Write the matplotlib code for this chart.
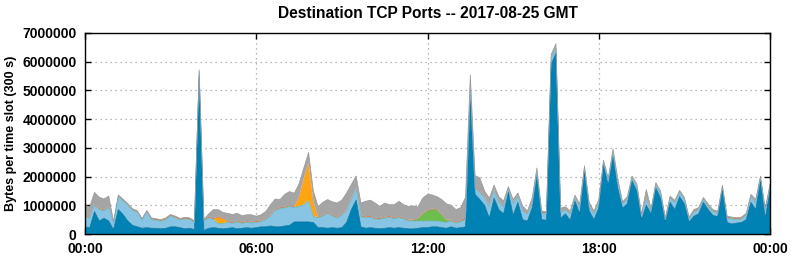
import numpy as np
import matplotlib.pyplot as plt

# 10-minute slots from 00:00 to 24:00, values in MB per slot
# one row per hour
dark = [
    0.25, 0.22, 0.78, 0.45, 0.55, 0.45,
    0.15, 0.85, 0.68, 0.45, 0.30, 0.25,
    0.20, 0.22, 0.20, 0.20, 0.18, 0.20,
    0.25, 0.25, 0.22, 0.18, 0.20, 0.15,
    5.50, 0.12, 0.20, 0.22, 0.20, 0.18,
    0.20, 0.22, 0.18, 0.20, 0.22, 0.20,
    0.22, 0.25, 0.25, 0.28, 0.25, 0.25,
    0.28, 0.30, 0.42, 0.42, 0.42, 0.42,
    0.40, 0.22, 0.22, 0.20, 0.22, 0.20,
    0.22, 0.40, 0.85, 1.18, 0.25, 0.20,
    0.22, 0.20, 0.18, 0.20, 0.22, 0.20,
    0.22, 0.20, 0.18, 0.18, 0.20, 0.22,
    0.22, 0.25, 0.25, 0.22, 0.20, 0.25,
    0.20, 0.22, 0.25, 4.70, 1.38, 1.20,
    1.00, 0.55, 1.25, 0.85, 0.70, 1.45,
    0.65, 1.10, 0.50, 0.45, 0.90, 2.05,
    0.50, 0.48, 5.90, 6.30, 0.55, 0.70,
    0.48, 1.15, 0.70, 2.15, 0.80, 0.50,
    0.90, 2.40, 1.70, 2.70, 1.60, 0.90,
    1.05, 1.85, 1.50, 0.50, 1.00, 0.70,
    1.60, 1.25, 0.40, 1.10, 0.85, 1.30,
    1.05, 0.42, 0.62, 0.70, 1.10, 0.85,
    0.65, 0.60, 1.55, 0.40, 0.35, 0.38,
    0.40, 0.50, 1.10, 0.85, 1.85, 0.55,
    1.50,
]
light = [
    0.37, 0.33, 0.22, 0.40, 0.25, 0.47,
    0.23, 0.45, 0.47, 0.55, 0.52, 0.50,
    0.28, 0.54, 0.30, 0.27, 0.26, 0.30,
    0.37, 0.31, 0.26, 0.34, 0.30, 0.25,
    0.15, 0.33, 0.35, 0.28, 0.15, 0.17,
    0.20, 0.14, 0.24, 0.16, 0.18, 0.18,
    0.18, 0.17, 0.25, 0.34, 0.57, 0.63,
    0.62, 0.65, 0.50, 0.53, 0.58, 0.73,
    0.20, 0.33, 0.40, 0.52, 0.40, 0.35,
    0.43, 0.40, 0.35, 0.40, 0.35, 0.36,
    0.36, 0.32, 0.32, 0.35, 0.36, 0.32,
    0.35, 0.32, 0.27, 0.27, 0.25, 0.23,
    0.23, 0.20, 0.20, 0.20, 0.20, 0.20,
    0.18, 0.20, 0.25, 0.35, 0.22, 0.25,
    0.25, 0.40, 0.25, 0.25, 0.25, 0.10,
    0.40, 0.20, 0.30, 0.25, 0.15, 0.10,
    0.22, 0.22, 0.20, 0.18, 0.20, 0.15,
    0.22, 0.10, 0.20, 0.15, 0.15, 0.20,
    0.15, 0.10, 0.15, 0.15, 0.20, 0.15,
    0.15, 0.10, 0.15, 0.12, 0.20, 0.10,
    0.12, 0.15, 0.10, 0.15, 0.25, 0.15,
    0.15, 0.10, 0.15, 0.15, 0.10, 0.10,
    0.13, 0.12, 0.07, 0.15, 0.17, 0.12,
    0.12, 0.15, 0.20, 0.25, 0.10, 0.25,
    0.15,
]
green = [
    0.03, 0.03, 0.03, 0.03, 0.03, 0.03,
    0.03, 0.03, 0.03, 0.03, 0.03, 0.03,
    0.03, 0.03, 0.03, 0.03, 0.03, 0.03,
    0.03, 0.03, 0.03, 0.03, 0.03, 0.03,
    0.03, 0.03, 0.03, 0.03, 0.03, 0.03,
    0.03, 0.03, 0.03, 0.03, 0.03, 0.03,
    0.03, 0.03, 0.03, 0.03, 0.03, 0.03,
    0.03, 0.03, 0.03, 0.03, 0.03, 0.03,
    0.03, 0.03, 0.03, 0.03, 0.03, 0.03,
    0.03, 0.03, 0.03, 0.03, 0.03, 0.03,
    0.03, 0.03, 0.03, 0.03, 0.03, 0.03,
    0.03, 0.03, 0.03, 0.03, 0.08, 0.25,
    0.35, 0.42, 0.38, 0.25, 0.08, 0.03,
    0.03, 0.03, 0.03, 0.03, 0.03, 0.03,
    0.03, 0.03, 0.03, 0.03, 0.03, 0.03,
    0.03, 0.03, 0.03, 0.03, 0.03, 0.03,
    0.03, 0.03, 0.03, 0.03, 0.03, 0.03,
    0.03, 0.03, 0.03, 0.03, 0.03, 0.03,
    0.03, 0.03, 0.03, 0.03, 0.03, 0.03,
    0.03, 0.03, 0.03, 0.03, 0.03, 0.03,
    0.03, 0.03, 0.03, 0.03, 0.03, 0.03,
    0.03, 0.03, 0.03, 0.03, 0.03, 0.03,
    0.03, 0.03, 0.03, 0.03, 0.03, 0.03,
    0.03, 0.03, 0.03, 0.03, 0.03, 0.03,
    0.03,
]
orange = [
    0, 0, 0, 0, 0, 0,
    0, 0, 0, 0, 0, 0,
    0, 0, 0, 0, 0, 0,
    0, 0, 0, 0, 0, 0,
    0, 0, 0, 0, 0.20, 0.15,
    0, 0, 0, 0, 0, 0,
    0, 0, 0, 0, 0, 0,
    0, 0, 0, 0.30, 0.90, 1.30,
    0.50, 0, 0, 0, 0, 0,
    0, 0, 0, 0, 0, 0,
    0, 0, 0, 0, 0, 0,
    0, 0, 0, 0, 0, 0,
    0, 0, 0, 0, 0, 0,
    0, 0, 0, 0.05, 0, 0,
    0, 0, 0, 0, 0, 0,
    0, 0, 0, 0, 0, 0,
    0, 0, 0, 0, 0, 0,
    0, 0, 0, 0, 0, 0,
    0, 0, 0, 0, 0, 0,
    0, 0, 0, 0, 0, 0,
    0, 0, 0, 0, 0, 0,
    0, 0, 0, 0, 0, 0,
    0, 0, 0, 0, 0, 0,
    0, 0, 0, 0, 0, 0,
    0,
]
red = [
    0.02, 0.02, 0.02, 0.02, 0.02, 0.02,
    0.02, 0.02, 0.02, 0.02, 0.02, 0.02,
    0.02, 0.02, 0.02, 0.02, 0.02, 0.02,
    0.02, 0.02, 0.02, 0.02, 0.02, 0.02,
    0.02, 0.02, 0.02, 0.02, 0.02, 0.02,
    0.02, 0.02, 0.02, 0.02, 0.02, 0.02,
    0.02, 0.02, 0.02, 0.02, 0.02, 0.02,
    0.02, 0.02, 0.02, 0.02, 0.02, 0.02,
    0.02, 0.02, 0.02, 0.02, 0.02, 0.02,
    0.02, 0.02, 0.02, 0.02, 0.02, 0.02,
    0.02, 0.02, 0.02, 0.02, 0.02, 0.02,
    0.02, 0.02, 0.02, 0.02, 0.02, 0.02,
    0.02, 0.02, 0.02, 0.02, 0.02, 0.02,
    0.02, 0.02, 0.04, 0.10, 0.03, 0.03,
    0.02, 0.02, 0.02, 0.02, 0.02, 0.02,
    0.02, 0.02, 0.02, 0.02, 0.02, 0.02,
    0.02, 0.02, 0.02, 0.03, 0.02, 0.02,
    0.02, 0.02, 0.02, 0.02, 0.02, 0.02,
    0.02, 0.02, 0.02, 0.02, 0.02, 0.02,
    0.02, 0.02, 0.02, 0.02, 0.02, 0.02,
    0.02, 0.02, 0.02, 0.02, 0.02, 0.02,
    0.02, 0.02, 0.02, 0.02, 0.02, 0.02,
    0.02, 0.02, 0.02, 0.02, 0.02, 0.02,
    0.02, 0.02, 0.02, 0.02, 0.02, 0.02,
    0.02,
]
gray = [
    0.33, 0.35, 0.40, 0.38, 0.37, 0.35,
    0.01, 0.01, 0.01, 0.01, 0.01, 0.01,
    0.01, 0.01, 0.01, 0.01, 0.01, 0.01,
    0.01, 0.01, 0.01, 0.01, 0.01, 0.01,
    0.02, 0.01, 0.10, 0.30, 0.25, 0.20,
    0.27, 0.27, 0.25, 0.23, 0.22, 0.24,
    0.17, 0.20, 0.23, 0.35, 0.35, 0.27,
    0.43, 0.48, 0.45, 0.45, 0.35, 0.34,
    0.35, 0.36, 0.43, 0.43, 0.45, 0.48,
    0.48, 0.58, 0.48, 0.39, 0.43, 0.53,
    0.55, 0.51, 0.41, 0.48, 0.39, 0.45,
    0.52, 0.45, 0.46, 0.48, 0.39, 0.53,
    0.56, 0.47, 0.45, 0.51, 0.55, 0.50,
    0.42, 0.45, 0.71, 0.31, 0.37, 0.45,
    0.20, 0.25, 0.15, 0.15, 0.15, 0.05,
    0.10, 0.08, 0.13, 0.05, 0.15, 0.10,
    0.03, 0.03, 0.10, 0.09, 0.10, 0.05,
    0.05, 0.05, 0.10, 0.03, 0.10, 0.05,
    0.10, 0.02, 0.05, 0.06, 0.10, 0.02,
    0.05, 0.02, 0.05, 0.03, 0.30, 0.03,
    0.02, 0.05, 0.02, 0.02, 0.02, 0.02,
    0.03, 0.02, 0.03, 0.02, 0.02, 0.05,
    0.02, 0.02, 0.03, 0.02, 0.02, 0.02,
    0.02, 0.02, 0.03, 0.05, 0.02, 0.05,
    0.03,
]

hours = np.arange(len(dark)) / 6.0
layers = [dark, light, green, orange, red, gray]
colors = ['#0082b4', '#88c4e4', '#6cbf4c', '#ffa514', '#d8341c', '#a5a5a5']
# outline only for the wide bands
edges = ['#006e98', '#78b4d6', None, None, None, '#989898']

fig = plt.figure(figsize=(7.92, 2.59), dpi=100)
ax = fig.add_axes([85 / 792, 25 / 259, 685 / 792, 201 / 259])

base = np.zeros(len(dark))
for vals, c, e in zip(layers, colors, edges):
    top = base + np.array(vals) * 1e6
    ax.fill_between(hours, base, top, facecolor=c, edgecolor='none', lw=0, zorder=2)
    if e is not None:
        ax.plot(hours, top, color=e, lw=0.5, zorder=3)
    base = top

ax.set_xlim(0, 24)
ax.set_ylim(0, 7000000)
ax.set_xticks([0, 6, 12, 18, 24])
ax.set_xticklabels(['00:00', '06:00', '12:00', '18:00', '00:00'])
ax.set_yticks(np.arange(0, 7000001, 1000000))
ax.set_yticklabels([str(v) for v in range(0, 7000001, 1000000)])
ax.grid(True, color='#a0a0a0', linestyle=(0, (1, 3)), lw=0.9, zorder=0)
ax.set_axisbelow(True)
ax.tick_params(direction='in', length=4, width=1, top=True, right=True, pad=6)
for lab in ax.get_xticklabels() + ax.get_yticklabels():
    lab.set_fontweight('bold')
    lab.set_fontsize(10)
    lab.set_family('Liberation Sans')
for s in ax.spines.values():
    s.set_linewidth(1)
    s.set_zorder(5)

ax.set_ylabel('Bytes per time slot (300 s)', fontsize=9, fontweight='bold',
              family='Liberation Sans', labelpad=4)
ax.set_title('Destination TCP Ports -- 2017-08-25 GMT', fontsize=11.2,
             fontweight='bold', family='Liberation Sans', pad=11)

fig.savefig('out.png', dpi=100)
